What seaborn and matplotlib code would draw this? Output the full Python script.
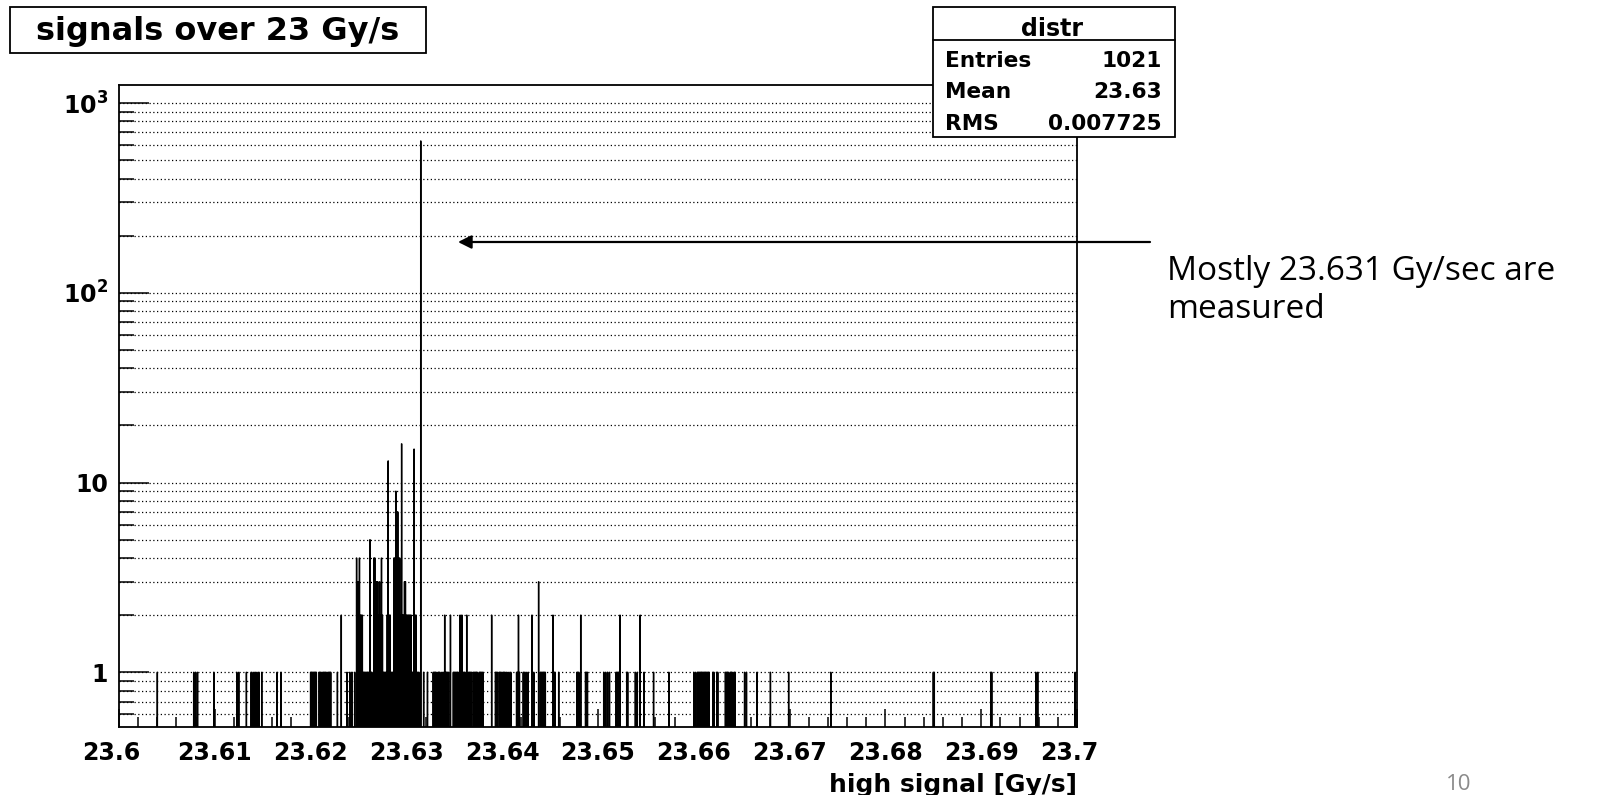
import numpy as np
import pandas as pd
import matplotlib
matplotlib.use("Agg")
import matplotlib.pyplot as plt
import matplotlib.ticker as mticker
import matplotlib.transforms as mtransforms
from matplotlib.patches import Rectangle, FancyArrowPatch
from matplotlib.lines import Line2D
import seaborn as sns

# ---------------- data ----------------
left_tail_values = [
    23.6040, 23.6078, 23.6080, 23.6082, 23.6099, 23.6123, 23.6125, 23.6133,
    23.6138, 23.6140, 23.6142, 23.6144, 23.6146, 23.6149, 23.6165, 23.6169,
    23.6200, 23.6201, 23.6202, 23.6203, 23.6204, 23.6205, 23.6206,
    23.6209, 23.6210, 23.6211, 23.6213, 23.6214, 23.6215, 23.6216, 23.6218,
    23.6219, 23.6220, 23.6221,
    23.6228, 23.6232, 23.6238, 23.6241, 23.6243]
left_tail_counts = [
    1, 1, 1, 1, 1, 1, 1, 1,
    1, 1, 1, 1, 1, 1, 1, 1,
    1, 1, 1, 1, 1, 1, 1,
    1, 1, 1, 1, 1, 1, 1, 1,
    1, 1, 1,
    1, 2, 1, 1, 1]

core_values = [
    23.6246, 23.6248, 23.6249, 23.6250, 23.6251, 23.6252, 23.6253, 23.6254,
    23.6255, 23.6256, 23.6257, 23.6258, 23.6259, 23.6260, 23.6261,
    23.6262, 23.6263, 23.6264,
    23.6266, 23.6267, 23.6268,
    23.6269, 23.6270, 23.6271, 23.6272, 23.6273, 23.6274, 23.6275,
    23.6276, 23.6277, 23.6278, 23.6279,
    23.6280, 23.6281, 23.6282, 23.6283,
    23.6284, 23.6285, 23.6286,
    23.6287, 23.6288, 23.6289, 23.6290, 23.6291, 23.6292, 23.6293,
    23.6294, 23.6295, 23.6296,
    23.6297, 23.6298, 23.6299,
    23.6300, 23.6301, 23.6302, 23.6303, 23.6304, 23.6305,
    23.6306, 23.6307,
    23.6308,
    23.6309, 23.6310, 23.6311,
    23.6312, 23.6313,
    23.6315]
core_counts = [
    1, 4, 3, 3, 4, 2, 2, 2,
    1, 1, 1, 1, 1, 1, 1,
    5, 1, 1,
    4, 4, 3,
    3, 3, 2, 3, 2, 4, 2,
    1, 1, 1, 1,
    2, 13, 2, 2,
    1, 1, 1,
    4, 4, 9, 7, 7, 4, 4,
    2, 16, 2,
    2, 3, 3,
    2, 2, 2, 2, 2, 2,
    1, 1,
    15,
    2, 2, 1,
    1, 1,
    631]

right_tail_values = [
    23.6318, 23.6322, 23.6328, 23.6329, 23.6330, 23.6331, 23.6333, 23.6334, 23.6335, 23.6337,
    23.6339, 23.6340, 23.6341, 23.6342, 23.6343, 23.6344, 23.6346,
    23.6349, 23.6350, 23.6351, 23.6352, 23.6353, 23.6354, 23.6356, 23.6358, 23.6359, 23.6360, 23.6361, 23.6363,
    23.6365, 23.6366, 23.6367, 23.6368, 23.6370, 23.6371, 23.6372, 23.6373, 23.6374, 23.6376, 23.6377,
    23.6378, 23.6379, 23.6380,
    23.6389,
    23.6393, 23.6394, 23.6395, 23.6397, 23.6398, 23.6399, 23.6401, 23.6402, 23.6403, 23.6405,
    23.6407, 23.6409,
    23.6415, 23.6416, 23.6417, 23.6418,
    23.6422, 23.6423, 23.6425, 23.6427,
    23.6431, 23.6433,
    23.6438,
    23.6440, 23.6441, 23.6442, 23.6443, 23.6444, 23.6445,
    23.6453, 23.6454, 23.6455,
    23.6459,
    23.6478, 23.6479, 23.6480, 23.6482,
    23.6487, 23.6488, 23.6489,
    23.6506, 23.6508, 23.6510, 23.6512,
    23.6519, 23.6520, 23.6521, 23.6522, 23.6523,
    23.6530, 23.6531,
    23.6539, 23.6541,
    23.6544,
    23.6548, 23.6558, 23.6574,
    23.6600, 23.6602, 23.6604,
    23.6605, 23.6606, 23.6607, 23.6608, 23.6609, 23.6610, 23.6611, 23.6612, 23.6613, 23.6614,
    23.6615, 23.6616,
    23.6620, 23.6621, 23.6624, 23.6625,
    23.6633, 23.6634, 23.6635, 23.6636, 23.6638, 23.6639, 23.6640, 23.6642, 23.6643,
    23.6653, 23.6655,
    23.6666, 23.6680, 23.6699, 23.6743,
    23.6850, 23.6851, 23.6910, 23.6911, 23.6957, 23.6959, 23.6998]
right_tail_counts = [
    1, 1, 1, 1, 1, 1, 1, 1, 1, 1,
    1, 2, 1, 1, 1, 1, 2,
    1, 1, 1, 1, 1, 1, 2, 2, 1, 1, 1, 2,
    1, 1, 1, 1, 1, 1, 1, 1, 1, 1, 1,
    1, 1, 1,
    2,
    1, 1, 1, 1, 1, 1, 1, 1, 1, 1,
    1, 1,
    1, 1, 2, 1,
    1, 1, 1, 1,
    2, 1,
    3,
    1, 1, 1, 1, 1, 1,
    2, 1, 1,
    1,
    1, 1, 1, 2,
    1, 1, 1,
    1, 1, 1, 1,
    1, 1, 1, 1, 2,
    1, 1,
    1, 1,
    2,
    1, 1, 1,
    1, 1, 1,
    1, 1, 1, 1, 1, 1, 1, 1, 1, 1,
    1, 1,
    1, 1, 1, 1,
    1, 1, 1, 1, 1, 1, 1, 1, 1,
    1, 1,
    1, 1, 1, 1,
    1, 1, 1, 1, 1, 1, 1]

x_tick_values = [23.60, 23.61, 23.62, 23.63, 23.64, 23.65, 23.66, 23.67, 23.68, 23.69, 23.70]
x_tick_labels = ["23.6", "23.61", "23.62", "23.63", "23.64", "23.65", "23.66",
                 "23.67", "23.68", "23.69", "23.7"]
y_tick_values = [1, 10, 100, 1000]
y_tick_labels = ["1", "10", r"$\mathbf{10^{2}}$", r"$\mathbf{10^{3}}$"]

title_text = "signals over 23 Gy/s"
hist_name = "distr"
stats_labels = ["Entries", "Mean", "RMS"]
stats_values = ["1021", "23.63", "0.007725"]
x_title = "high signal [Gy/s]"
note_lines = ["Mostly 23.631 Gy/sec are", "measured"]
page_number = "10"

# ---------------- style ----------------
sns.set_style("white")
plt.rcParams["font.family"] = ["DejaVu Sans"]
plt.rcParams["mathtext.fontset"] = "dejavusans"
for key in ["axes.edgecolor", "text.color", "axes.labelcolor", "xtick.color", "ytick.color"]:
    plt.rcParams[key] = "black"

W, H = 1597, 795
fig = plt.figure(figsize=(W / 100, H / 100), dpi=100)
fig.patch.set_facecolor("white")


def fx(px):
    return px / W


def fy(py):
    return 1 - py / H


L, R, T, B = 119, 1077, 85, 727
ax = fig.add_axes([fx(L), fy(B), fx(R) - fx(L), fy(T) - fy(B)])
ax.set_facecolor("white")

df = pd.DataFrame({
    "signal": left_tail_values + core_values + right_tail_values,
    "n": left_tail_counts + core_counts + right_tail_counts,
})

sns.histplot(data=df, x="signal", weights="n", binwidth=0.00002,
             binrange=(23.59999, 23.69999), element="step", fill=False,
             color="black", linewidth=1.0, ax=ax, legend=False)

ax.set_yscale("log")
ax.set_xlim(23.6, 23.7)
ax.set_ylim(0.515, 1245)
ax.set_xlabel("")
ax.set_ylabel("")

ax.set_xticks(x_tick_values, labels=x_tick_labels, fontsize=17, fontweight="bold",
              color="black")
ax.xaxis.set_minor_locator(mticker.MultipleLocator(0.002))
ax.set_yticks(y_tick_values, labels=y_tick_labels, fontsize=17, fontweight="bold",
              color="black")
ax.yaxis.set_minor_locator(mticker.LogLocator(base=10, subs=np.arange(2, 10), numticks=30))
ax.yaxis.set_minor_formatter(mticker.NullFormatter())

ax.tick_params(axis="x", which="major", direction="in", length=13, width=1.1,
               bottom=True, top=False, pad=10, colors="black")
ax.tick_params(axis="x", which="minor", direction="in", length=7.2, width=1.1,
               bottom=True, top=False, colors="black")
ax.tick_params(axis="y", which="major", direction="in", length=21.6, width=1.1,
               left=True, right=False, pad=8, colors="black")
ax.tick_params(axis="y", which="minor", direction="in", length=10.8, width=1.1,
               left=True, right=False, colors="black")

ax.grid(False)
ax.set_axisbelow(True)
ax.yaxis.grid(True, which="both", linestyle=(0, (1, 2)), color="black", linewidth=0.9)

# ROOT-like placement of the first/last labels
off = mtransforms.ScaledTranslation(-37 / 100, 0, fig.dpi_scale_trans)
xl = ax.get_xticklabels()
for lab in (xl[0], xl[-1]):
    lab.set_horizontalalignment("left")
    lab.set_transform(lab.get_transform() + off)

for s in ax.spines.values():
    s.set_visible(True)
    s.set_linewidth(1.3)
    s.set_color("black")

# title box
fig.add_artist(Rectangle((fx(10), fy(53)), fx(426) - fx(10), fy(7) - fy(53),
                         transform=fig.transFigure, facecolor="white",
                         edgecolor="black", linewidth=1.3, zorder=2))
fig.text(fx(218), fy(40), title_text, ha="center", va="baseline",
         fontsize=23, fontweight="bold", zorder=3)

# stats box
fig.add_artist(Rectangle((fx(933), fy(137)), fx(1175) - fx(933), fy(7) - fy(137),
                         transform=fig.transFigure, facecolor="white",
                         edgecolor="black", linewidth=1.3, zorder=2))
fig.add_artist(Line2D([fx(933), fx(1175)], [fy(40), fy(40)], transform=fig.transFigure,
                      color="black", linewidth=1.3, zorder=2))
fig.text(fx(1052), fy(36), hist_name, ha="center", va="baseline",
         fontsize=17, fontweight="bold", zorder=3)
for lab, val, yy in zip(stats_labels, stats_values, [67, 98.5, 130]):
    fig.text(fx(945), fy(yy), lab, ha="left", va="baseline", fontsize=15.6,
             fontweight="bold", zorder=3)
    fig.text(fx(1162), fy(yy), val, ha="right", va="baseline", fontsize=15.6,
             fontweight="bold", zorder=3)

# x axis title
fig.text(fx(1077), fy(792), x_title, ha="right", va="baseline",
         fontsize=18, fontweight="bold")

# annotation arrow and text
fig.add_artist(FancyArrowPatch((fx(1150), fy(242)), (fx(458), fy(242)),
                               transform=fig.transFigure, arrowstyle="-|>",
                               mutation_scale=20, linewidth=1.6, color="black",
                               shrinkA=0, shrinkB=0, zorder=4))
fig.text(fx(1167), fy(280), note_lines[0], ha="left", va="baseline",
         family="Open Sans", fontsize=24, color="black")
fig.text(fx(1167), fy(318), note_lines[1], ha="left", va="baseline",
         family="Open Sans", fontsize=24, color="black")

fig.text(fx(1459), 0.0, page_number, ha="center", va="bottom",
         family="Open Sans", fontsize=16, color="#8a8a8a")

fig.savefig("out.png", dpi=100, facecolor="white")
